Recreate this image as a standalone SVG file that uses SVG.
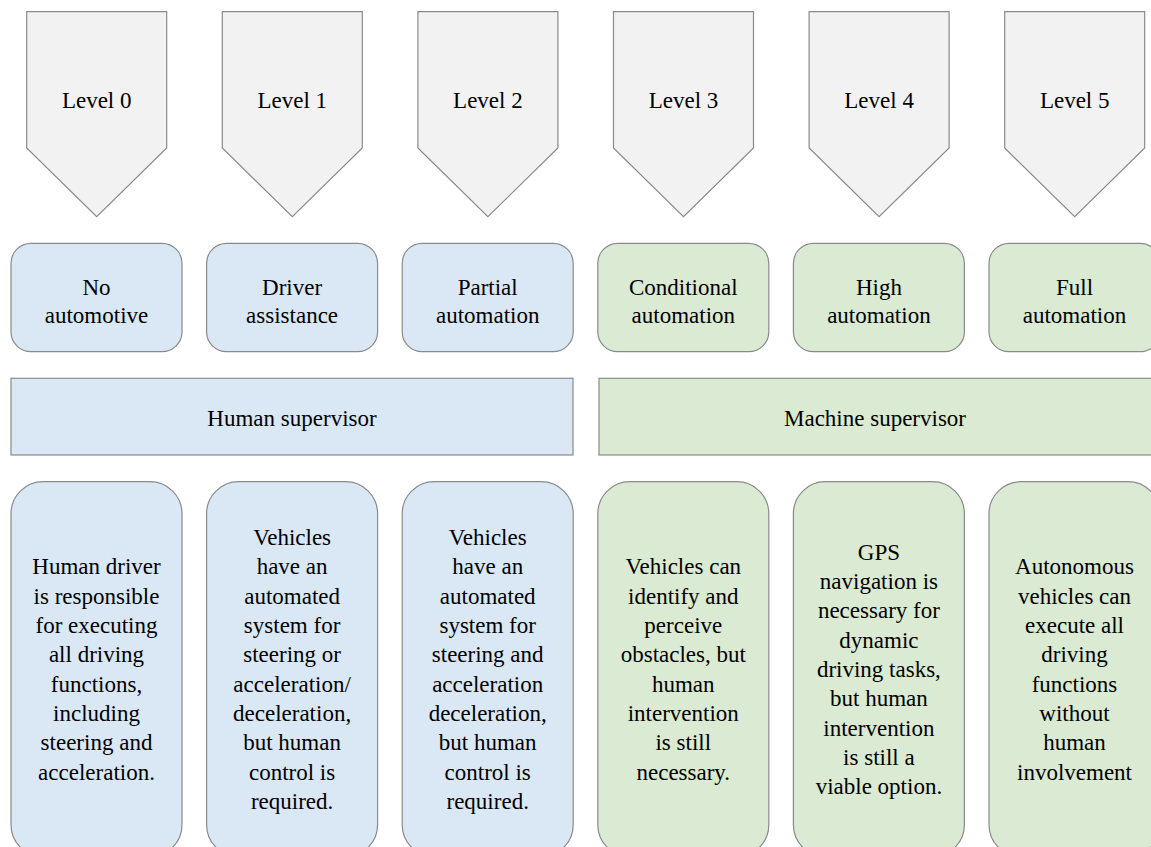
<svg xmlns="http://www.w3.org/2000/svg" width="1151" height="847" viewBox="0 0 1151 847">
<style>
text{font-family:"Liberation Serif","Times New Roman",Times,Tinos,"Noto Serif","DejaVu Serif",FreeSerif,serif;font-size:23px;fill:#000;text-anchor:middle}
.lvl{fill:#f2f2f2;stroke:#8a8a8a;stroke-width:1.2}
.blue{fill:#dae8f6;stroke:#8a8a8a;stroke-width:1.2}
.green{fill:#dbead3;stroke:#8a8a8a;stroke-width:1.2}
</style>
<rect width="1151" height="847" fill="#fff"/>
<g id="level0"><polygon class="lvl" points="26.7,11.7 166.7,11.7 166.7,148 96.7,216.7 26.7,148"/><text x="96.7" y="108">Level 0</text></g>
<g id="level1"><polygon class="lvl" points="222.3,11.7 362.3,11.7 362.3,148 292.3,216.7 222.3,148"/><text x="292.3" y="108">Level 1</text></g>
<g id="level2"><polygon class="lvl" points="417.9,11.7 557.9,11.7 557.9,148 487.9,216.7 417.9,148"/><text x="487.9" y="108">Level 2</text></g>
<g id="level3"><polygon class="lvl" points="613.5,11.7 753.5,11.7 753.5,148 683.5,216.7 613.5,148"/><text x="683.5" y="108">Level 3</text></g>
<g id="level4"><polygon class="lvl" points="809.1,11.7 949.1,11.7 949.1,148 879.1,216.7 809.1,148"/><text x="879.1" y="108">Level 4</text></g>
<g id="level5"><polygon class="lvl" points="1004.7,11.7 1144.7,11.7 1144.7,148 1074.7,216.7 1004.7,148"/><text x="1074.7" y="108">Level 5</text></g>

<g id="name0"><rect class="blue" x="11" y="243.3" width="171" height="108.4" rx="20"/><text x="96.5" y="295">No<tspan x="96.5" dy="28.3">automotive</tspan></text></g>
<g id="name1"><rect class="blue" x="206.6" y="243.3" width="171" height="108.4" rx="20"/><text x="292.1" y="295">Driver<tspan x="292.1" dy="28.3">assistance</tspan></text></g>
<g id="name2"><rect class="blue" x="402.2" y="243.3" width="171" height="108.4" rx="20"/><text x="487.7" y="295">Partial<tspan x="487.7" dy="28.3">automation</tspan></text></g>
<g id="name3"><rect class="green" x="597.8" y="243.3" width="171" height="108.4" rx="20"/><text x="683.3" y="295">Conditional<tspan x="683.3" dy="28.3">automation</tspan></text></g>
<g id="name4"><rect class="green" x="793.4" y="243.3" width="171" height="108.4" rx="20"/><text x="878.9" y="295">High<tspan x="878.9" dy="28.3">automation</tspan></text></g>
<g id="name5"><rect class="green" x="989" y="243.3" width="171" height="108.4" rx="20"/><text x="1074.5" y="295">Full<tspan x="1074.5" dy="28.3">automation</tspan></text></g>

<g id="human"><rect class="blue" x="11" y="378.3" width="562" height="76.7"/><text x="292" y="426">Human supervisor</text></g>
<g id="machine"><rect class="green" x="599" y="378.3" width="560" height="76.7"/><text x="875" y="426">Machine supervisor</text></g>

<g id="desc0"><rect class="blue" x="11" y="481.7" width="171" height="375" rx="32"/>
<text x="96.5" y="574.4">Human driver<tspan x="96.5" dy="29.3">is responsible</tspan><tspan x="96.5" dy="29.3">for executing</tspan><tspan x="96.5" dy="29.3">all driving</tspan><tspan x="96.5" dy="29.3">functions,</tspan><tspan x="96.5" dy="29.3">including</tspan><tspan x="96.5" dy="29.3">steering and</tspan><tspan x="96.5" dy="29.3">acceleration.</tspan></text></g>
<g id="desc1"><rect class="blue" x="206.6" y="481.7" width="171" height="375" rx="32"/>
<text x="292.1" y="545.1">Vehicles<tspan x="292.1" dy="29.3">have an</tspan><tspan x="292.1" dy="29.3">automated</tspan><tspan x="292.1" dy="29.3">system for</tspan><tspan x="292.1" dy="29.3">steering or</tspan><tspan x="292.1" dy="29.3">acceleration/</tspan><tspan x="292.1" dy="29.3">deceleration,</tspan><tspan x="292.1" dy="29.3">but human</tspan><tspan x="292.1" dy="29.3">control is</tspan><tspan x="292.1" dy="29.3">required.</tspan></text></g>
<g id="desc2"><rect class="blue" x="402.2" y="481.7" width="171" height="375" rx="32"/>
<text x="487.7" y="545.1">Vehicles<tspan x="487.7" dy="29.3">have an</tspan><tspan x="487.7" dy="29.3">automated</tspan><tspan x="487.7" dy="29.3">system for</tspan><tspan x="487.7" dy="29.3">steering and</tspan><tspan x="487.7" dy="29.3">acceleration</tspan><tspan x="487.7" dy="29.3">deceleration,</tspan><tspan x="487.7" dy="29.3">but human</tspan><tspan x="487.7" dy="29.3">control is</tspan><tspan x="487.7" dy="29.3">required.</tspan></text></g>
<g id="desc3"><rect class="green" x="597.8" y="481.7" width="171" height="375" rx="32"/>
<text x="683.3" y="574.4">Vehicles can<tspan x="683.3" dy="29.3">identify and</tspan><tspan x="683.3" dy="29.3">perceive</tspan><tspan x="683.3" dy="29.3">obstacles, but</tspan><tspan x="683.3" dy="29.3">human</tspan><tspan x="683.3" dy="29.3">intervention</tspan><tspan x="683.3" dy="29.3">is still</tspan><tspan x="683.3" dy="29.3">necessary.</tspan></text></g>
<g id="desc4"><rect class="green" x="793.4" y="481.7" width="171" height="375" rx="32"/>
<text x="878.9" y="559.8">GPS<tspan x="878.9" dy="29.3">navigation is</tspan><tspan x="878.9" dy="29.3">necessary for</tspan><tspan x="878.9" dy="29.3">dynamic</tspan><tspan x="878.9" dy="29.3">driving tasks,</tspan><tspan x="878.9" dy="29.3">but human</tspan><tspan x="878.9" dy="29.3">intervention</tspan><tspan x="878.9" dy="29.3">is still a</tspan><tspan x="878.9" dy="29.3">viable option.</tspan></text></g>
<g id="desc5"><rect class="green" x="989" y="481.7" width="171" height="375" rx="32"/>
<text x="1074.5" y="574.4">Autonomous<tspan x="1074.5" dy="29.3">vehicles can</tspan><tspan x="1074.5" dy="29.3">execute all</tspan><tspan x="1074.5" dy="29.3">driving</tspan><tspan x="1074.5" dy="29.3">functions</tspan><tspan x="1074.5" dy="29.3">without</tspan><tspan x="1074.5" dy="29.3">human</tspan><tspan x="1074.5" dy="29.3">involvement</tspan></text></g>
<g id="connectors"></g>
</svg>
